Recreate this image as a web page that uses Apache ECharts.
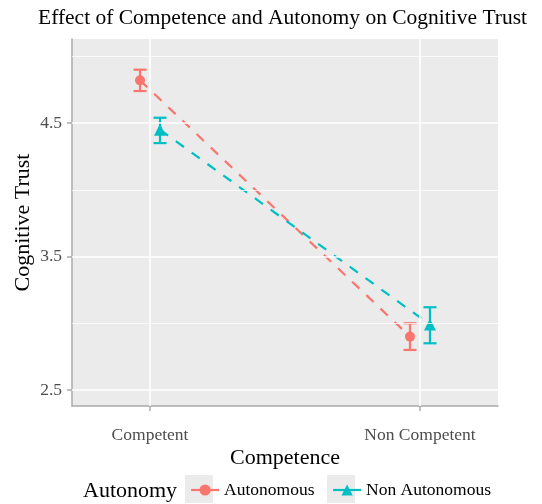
<!DOCTYPE html>
<html>
<head>
<meta charset="utf-8">
<script src="https://cdn.jsdelivr.net/npm/echarts@6/dist/echarts.min.js"></script>
<style>
  html, body { margin: 0; padding: 0; background: #fff; }
  #chart { width: 542px; height: 504px; }
</style>
</head>
<body>
<div id="chart"></div>
<script>
// data
const categories = ['Competent', 'Non Competent']
const groups = ['Autonomous', 'Non Autonomous']
const autonomousMean = [4.82, 2.90]
const autonomousLow = [4.74, 2.80]
const autonomousHigh = [4.90, 3.00]
const nonAutonomousMean = [4.45, 2.99]
const nonAutonomousLow = [4.35, 2.85]
const nonAutonomousHigh = [4.54, 3.12]
const yTicks = [2.5, 3.5, 4.5]
const yMinor = [3.0, 4.0, 5.0]
const dodge = 0.037

const red = '#F8766D'
const teal = '#00BFC4'
const font = 'Liberation Serif'

let chart = echarts.init(document.getElementById('chart'))

function points(mean, shift) {
  return mean.map((v, i) => [i + 1 + shift, v])
}
function bars(low, high, shift) {
  return low.map((v, i) => [i + 1 + shift, v, high[i]])
}

function errorBar(color) {
  return function (params, api) {
    let lo = api.coord([api.value(0), api.value(1)])
    let hi = api.coord([api.value(0), api.value(2)])
    let w = 6.5
    let style = { stroke: color, lineWidth: 2.2 }
    return {
      type: 'group',
      children: [
        { type: 'line', shape: { x1: lo[0], y1: lo[1], x2: hi[0], y2: hi[1] }, style: style },
        { type: 'line', shape: { x1: lo[0] - w, y1: lo[1], x2: lo[0] + w, y2: lo[1] }, style: style },
        { type: 'line', shape: { x1: hi[0] - w, y1: hi[1], x2: hi[0] + w, y2: hi[1] }, style: style }
      ]
    }
  }
}

let gridLines = []
yTicks.forEach(v => gridLines.push({ yAxis: v, lineStyle: { color: '#fff', width: 1.6, type: 'solid' } }))
yMinor.forEach(v => gridLines.push({ yAxis: v, lineStyle: { color: '#fff', width: 0.8, type: 'solid' } }))
categories.forEach((c, i) => gridLines.push({ xAxis: i + 1, lineStyle: { color: '#fff', width: 1.6, type: 'solid' } }))

let legendCommon = {
  top: 476,
  itemWidth: 28,
  itemHeight: 14,
  lineStyle: { type: 'solid', width: 2.2 },
  textStyle: { fontFamily: font, fontSize: 17.5, color: '#000', padding: [0, 0, 0, 0] }
}

let option = {
  animation: false,
  title: [
    {
      text: 'Effect of Competence and Autonomy on Cognitive Trust',
      left: 33,
      top: 2,
      textStyle: { fontFamily: font, fontSize: 21.5, fontWeight: 'normal', color: '#000' }
    },
    {
      text: 'Autonomy',
      left: 78,
      top: 475,
      textStyle: { fontFamily: font, fontSize: 22, fontWeight: 'normal', color: '#000' }
    }
  ],
  graphic: [
    { type: 'rect', left: 185, top: 475, shape: { width: 28, height: 28 }, style: { fill: '#EBEBEB' }, z: -1 },
    { type: 'rect', left: 327, top: 475, shape: { width: 28, height: 28 }, style: { fill: '#EBEBEB' }, z: -1 }
  ],
  legend: [
    Object.assign({ left: 185, data: [groups[0]] }, legendCommon),
    Object.assign({ left: 327, data: [groups[1]] }, legendCommon)
  ],
  grid: {
    left: 72,
    right: 44,
    top: 39,
    bottom: 98,
    show: true,
    backgroundColor: '#EBEBEB',
    borderWidth: 0
  },
  xAxis: {
    type: 'value',
    min: 0.711,
    max: 2.289,
    name: 'Competence',
    nameLocation: 'middle',
    nameGap: 41,
    nameMoveOverlap: false,
    nameTextStyle: { fontFamily: font, fontSize: 22, color: '#000' },
    splitLine: { show: false },
    axisLine: { show: true, onZero: false, lineStyle: { color: '#ababab', width: 1.5 } },
    axisTick: { show: true, length: 5, customValues: [1, 2], lineStyle: { color: '#ababab', width: 1.5 } },
    axisLabel: {
      customValues: [1, 2],
      margin: 20,
      formatter: v => categories[Math.round(v) - 1],
      fontFamily: font,
      fontSize: 17.5,
      color: '#4D4D4D'
    }
  },
  yAxis: {
    type: 'value',
    min: 2.38,
    max: 5.13,
    name: 'Cognitive Trust',
    nameLocation: 'middle',
    nameGap: 38,
    nameMoveOverlap: false,
    nameTextStyle: { fontFamily: font, fontSize: 22, color: '#000' },
    splitLine: { show: false },
    axisLine: { show: true, onZero: false, lineStyle: { color: '#ababab', width: 1.5 } },
    axisTick: { show: true, length: 5, customValues: yTicks, lineStyle: { color: '#ababab', width: 1.5 } },
    axisLabel: {
      customValues: yTicks,
      margin: 10,
      formatter: v => v.toFixed(1),
      fontFamily: font,
      fontSize: 17.5,
      color: '#4D4D4D'
    }
  },
  series: [
    {
      name: 'grid',
      type: 'line',
      data: [],
      z: 1,
      silent: true,
      markLine: { silent: true, symbol: 'none', label: { show: false }, data: gridLines }
    },
    {
      name: groups[0] + ' err',
      type: 'custom',
      renderItem: errorBar(red),
      data: bars(autonomousLow, autonomousHigh, -dodge),
      z: 3
    },
    {
      name: groups[1] + ' err',
      type: 'custom',
      renderItem: errorBar(teal),
      data: bars(nonAutonomousLow, nonAutonomousHigh, dodge),
      z: 3
    },
    {
      name: groups[0],
      type: 'line',
      data: points(autonomousMean, -dodge),
      symbol: 'circle',
      symbolSize: 10,
      showAllSymbol: true,
      color: red,
      itemStyle: { color: red },
      lineStyle: { color: red, width: 2.2, type: [10, 9.5] },
      z: 4
    },
    {
      name: groups[1],
      type: 'line',
      data: points(nonAutonomousMean, dodge),
      symbol: 'triangle',
      symbolSize: 12,
      showAllSymbol: true,
      color: teal,
      itemStyle: { color: teal },
      lineStyle: { color: teal, width: 2.2, type: [10, 9.5] },
      z: 4
    }
  ]
}
chart.setOption(option)

window.addEventListener('resize', () => {
  chart.resize()
})
</script>
</body>
</html>
